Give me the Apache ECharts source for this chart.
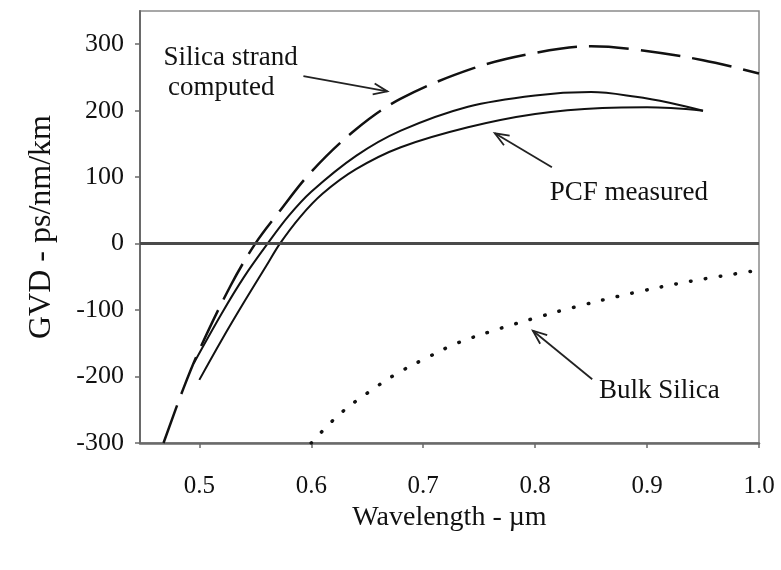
<!DOCTYPE html>
<html>
<head>
<meta charset="utf-8">
<script src="https://cdn.jsdelivr.net/npm/echarts@6/dist/echarts.min.js"></script>
<style>
    html, body { margin: 0; padding: 0; background: #fff; }
    #gvd_chart { width: 781px; height: 570px; }
</style>
</head>
<body>
<div id="gvd_chart"></div>
<script>
// tick labels
var x_ticks = [0.5, 0.6, 0.7, 0.8, 0.9, 1.0];
var y_ticks = [-300, -200, -100, 0, 100, 200, 300];

// silica strand, computed (dashed)
var strand_x = [0.468, 0.486, 0.50, 0.528, 0.55, 0.57, 0.60, 0.64, 0.68, 0.745, 0.80, 0.85, 0.89, 0.95, 1.0];
var strand_y = [-300, -217, -160, -63, 0, 45, 108, 172, 218, 264, 287, 297, 292, 276, 256];

// PCF measured, upper and lower branch (solid)
var pcf_upper_x = [0.495, 0.52, 0.54, 0.561, 0.58, 0.60, 0.64, 0.68, 0.74, 0.80, 0.85, 0.89, 0.92, 0.95];
var pcf_upper_y = [-180, -105, -50, 0, 42, 78, 132, 170, 206, 223, 228, 221, 212, 200];
var pcf_lower_x = [0.50, 0.52, 0.54, 0.56, 0.572, 0.59, 0.61, 0.64, 0.68, 0.74, 0.80, 0.86, 0.90, 0.95];
var pcf_lower_y = [-205, -145, -88, -33, 0, 40, 75, 112, 145, 175, 195, 204, 205, 200];

// bulk silica (dotted)
var bulk_x = [0.60, 0.625, 0.65, 0.676, 0.703, 0.73, 0.77, 0.80, 0.834, 0.888, 0.941, 1.0];
var bulk_y = [-300, -257, -225, -196, -172, -150, -127, -112, -96, -74, -56, -40];

// annotations: text anchor (left, middle) and arrow tail -> head, in data units
var notes = [
    { text: 'Silica strand', at: [0.468, 280] },
    { text: 'computed', at: [0.472, 234] },
    { text: 'PCF measured', at: [0.813, 77] },
    { text: 'Bulk Silica', at: [0.857, -222] }
];
var arrows = [
    [[0.593, 252], [0.668, 229]],
    [[0.815, 115], [0.764, 166]],
    [[0.851, -204], [0.798, -131]]
];

function zip(xs, ys) {
    return xs.map(function (x, i) { return [x, ys[i]]; });
}

var font = 'Liberation Serif, Times New Roman, serif';
var axis_color = '#6a6a6a';

var option = {
    animation: false,
    grid: {
        left: 140,
        right: 22,
        top: 11,
        bottom: 127,
        show: true,
        borderColor: '#8a8a8a',
        borderWidth: 1.5,
    },
    xAxis: {
        type: 'value',
        min: 0.447,
        max: 1.0,
        name: 'Wavelength - \u00b5m',
        nameLocation: 'middle',
        nameGap: 61,
        nameTextStyle: { fontFamily: font, fontSize: 28, color: '#111' },
        axisLine: { show: true, onZero: false, lineStyle: { color: axis_color, width: 2.5 } },
        axisTick: { show: true, inside: false, length: 5, customValues: x_ticks, lineStyle: { color: axis_color, width: 1.5 } },
        axisLabel: {
            customValues: x_ticks,
            margin: 31,
            fontFamily: font,
            fontSize: 25,
            color: '#111',
            formatter: function (v) { return v.toFixed(1); },
        },
        splitLine: { show: false },
    },
    yAxis: {
        type: 'value',
        min: -300,
        max: 350,
        name: 'GVD - ps/nm/km',
        nameLocation: 'middle',
        nameGap: 82,
        nameTextStyle: { fontFamily: font, fontSize: 32, color: '#111' },
        axisLine: { show: true, onZero: false, lineStyle: { color: axis_color, width: 2 } },
        axisTick: { show: true, inside: false, length: 5, customValues: y_ticks, lineStyle: { color: axis_color, width: 1.5 } },
        axisLabel: {
            customValues: y_ticks,
            margin: 16,
            fontFamily: font,
            fontSize: 26,
            color: '#111',
        },
        splitLine: { show: false },
    },
    series: [
        {
            name: 'Silica strand computed',
            type: 'line',
            smooth: 0.35,
            symbol: 'none',
            data: zip(strand_x, strand_y),
            lineStyle: { color: '#111', width: 2.5, type: [40, 12] },
            markLine: {
                silent: true,
                symbol: 'none',
                label: { show: false },
                lineStyle: { color: '#4a4a4a', width: 3, type: 'solid' },
                data: [{ yAxis: 0 }],
            },
            z: 3,
        },
        {
            name: 'PCF measured upper',
            type: 'line',
            smooth: 0.35,
            symbol: 'none',
            data: zip(pcf_upper_x, pcf_upper_y),
            lineStyle: { color: '#111', width: 2 },
            z: 3,
        },
        {
            name: 'PCF measured lower',
            type: 'line',
            smooth: 0.35,
            symbol: 'none',
            data: zip(pcf_lower_x, pcf_lower_y),
            lineStyle: { color: '#111', width: 2 },
            z: 3,
        },
        {
            name: 'Bulk Silica',
            type: 'line',
            smooth: 0.35,
            symbol: 'none',
            data: zip(bulk_x, bulk_y),
            lineStyle: { color: '#111', width: 3.5, type: [0.5, 14.5], cap: 'round' },
            z: 3,
        },
    ],
};

var gvd_chart = echarts.init(document.getElementById('gvd_chart'), null, { renderer: 'canvas' });
gvd_chart.setOption(option);

// annotation texts and arrows placed through the axes
function px(pt) {
    return gvd_chart.convertToPixel({ gridIndex: 0 }, pt);
}
var graphics = [];
notes.forEach(function (n) {
    var p = px(n.at);
    graphics.push({
        type: 'text',
        x: p[0],
        y: p[1],
        z: 10,
        style: {
            text: n.text,
            font: '27px ' + font,
            fill: '#111',
            align: 'left',
            verticalAlign: 'middle',
        },
    });
});
arrows.forEach(function (a) {
    var t = px(a[0]);
    var h = px(a[1]);
    var ang = Math.atan2(t[1] - h[1], t[0] - h[0]);
    var len = 15, spread = 0.38;
    var w1 = [h[0] + len * Math.cos(ang + spread), h[1] + len * Math.sin(ang + spread)];
    var w2 = [h[0] + len * Math.cos(ang - spread), h[1] + len * Math.sin(ang - spread)];
    graphics.push({
        type: 'line',
        z: 10,
        shape: { x1: t[0], y1: t[1], x2: h[0], y2: h[1] },
        style: { stroke: '#222', lineWidth: 1.8 },
    });
    graphics.push({
        type: 'polyline',
        z: 10,
        shape: { points: [w1, h, w2] },
        style: { stroke: '#222', lineWidth: 1.8, fill: null },
    });
});
gvd_chart.setOption({ graphic: graphics });
</script>
</body>
</html>
